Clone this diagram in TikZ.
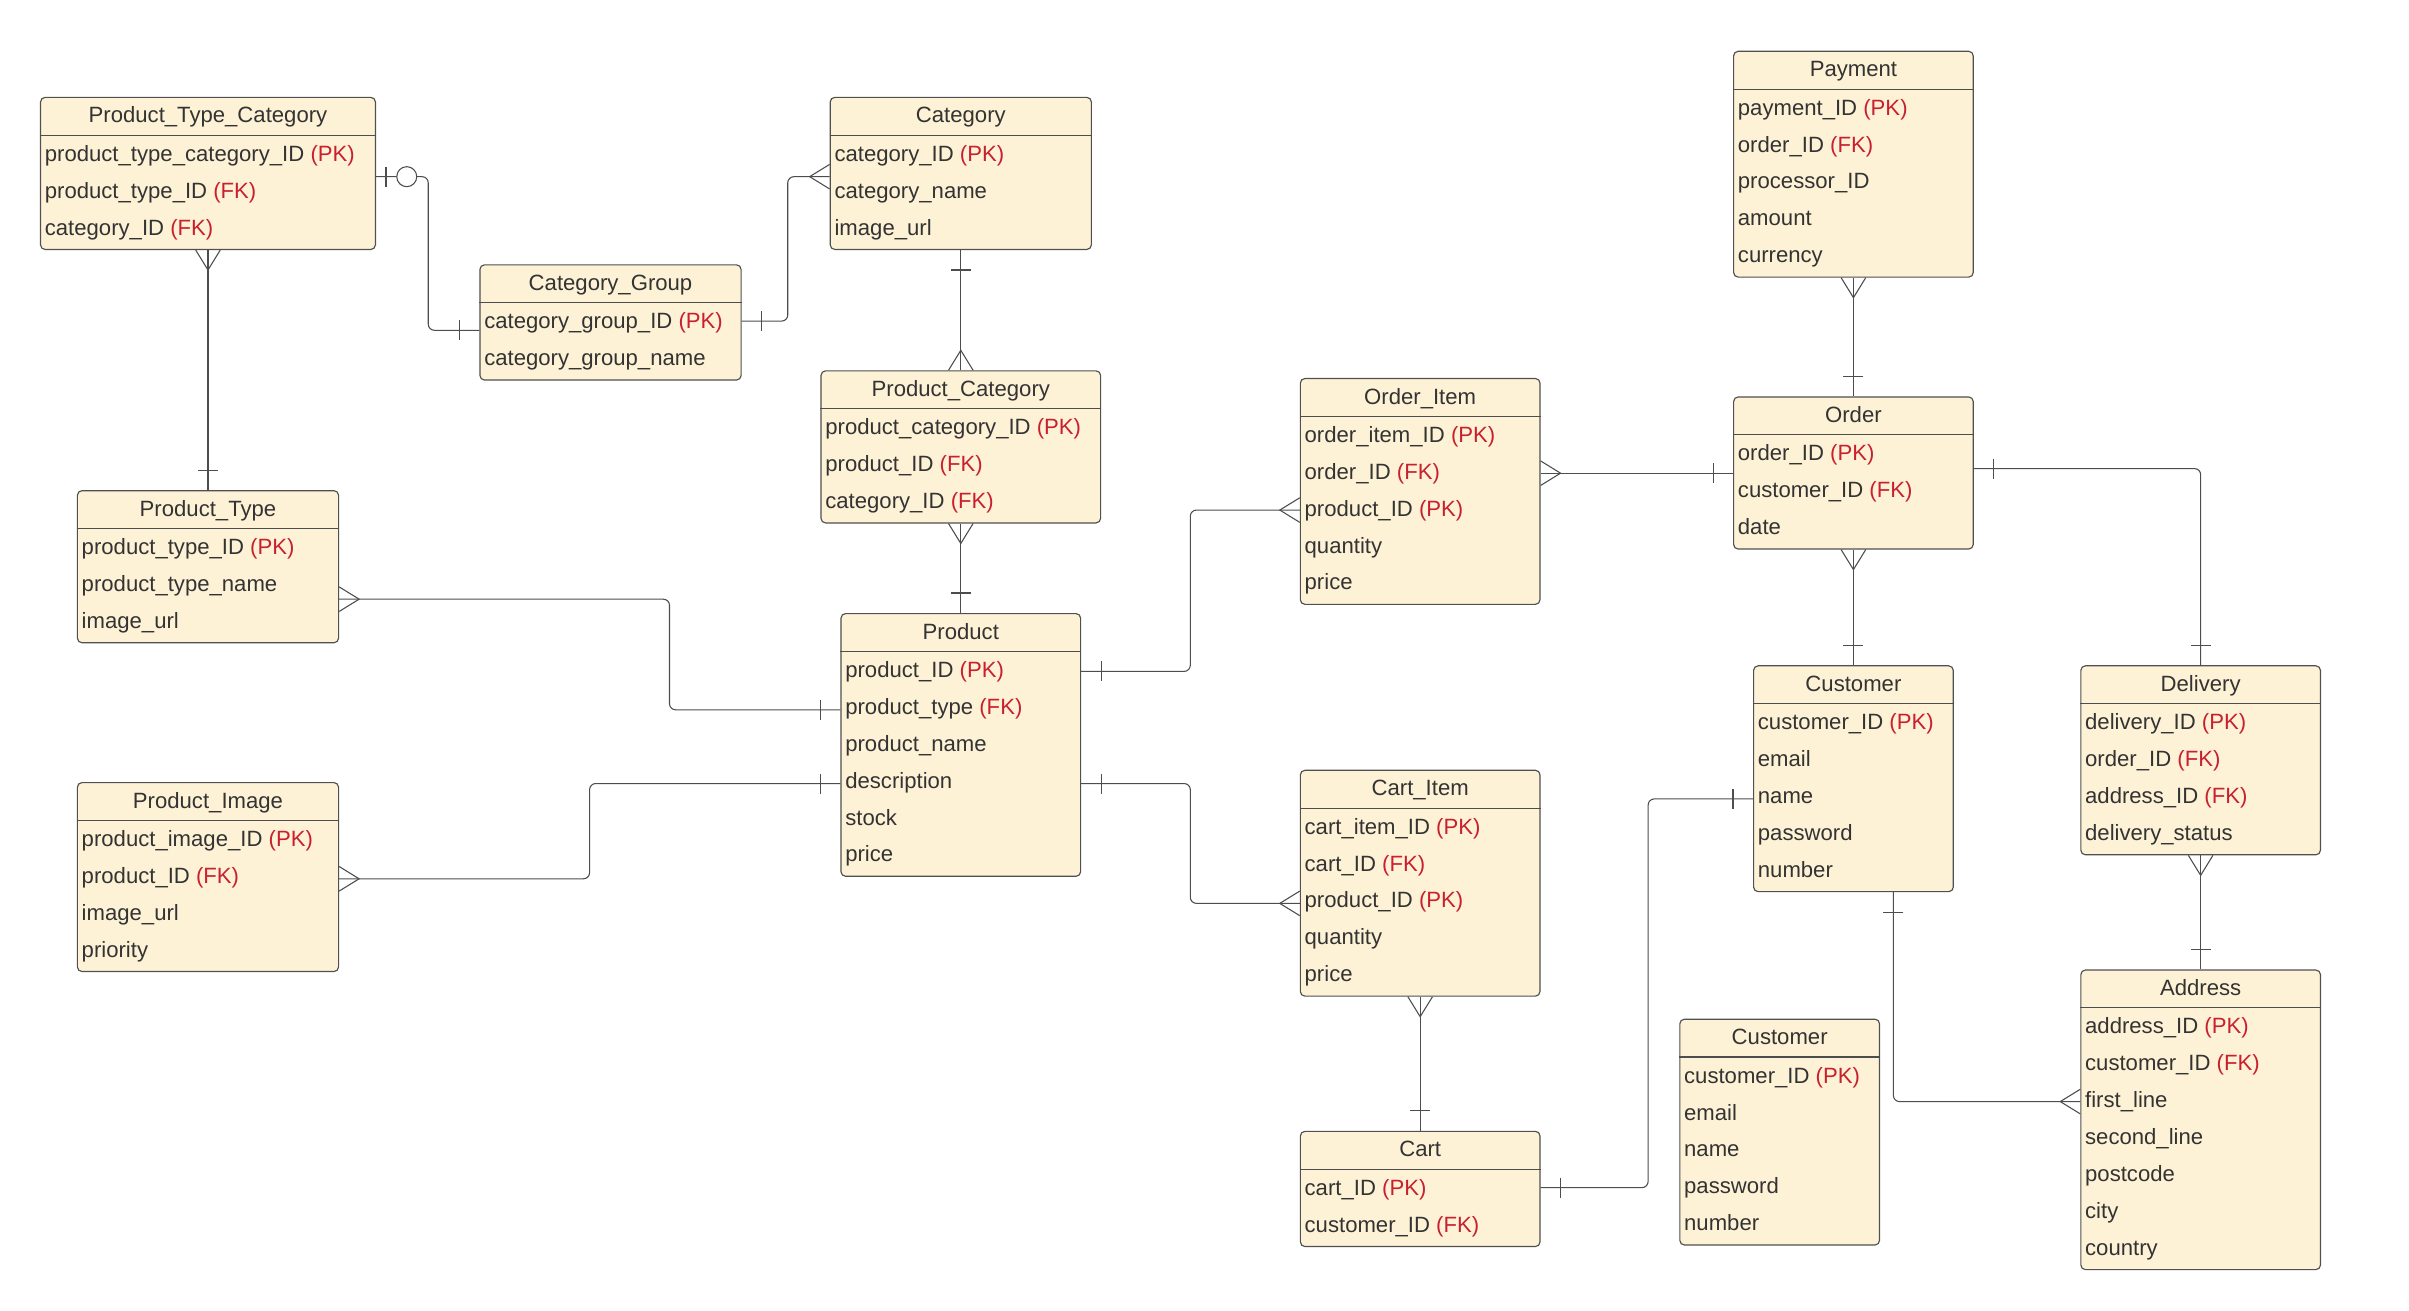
\documentclass[tikz,border=0pt]{standalone}
\usepackage{fontspec}
\setmainfont{Liberation Sans}

\definecolor{boxfill}{HTML}{FEF2D6}
\definecolor{boxdraw}{HTML}{505050}
\definecolor{txt}{HTML}{333333}
\definecolor{keyred}{HTML}{C8202F}
\definecolor{relcol}{HTML}{4D4D4D}

\newcommand{\pk}{\textcolor{keyred}{(PK)}}
\newcommand{\fk}{\textcolor{keyred}{(FK)}}

\tikzset{
  entitybox/.style={draw=boxdraw, fill=boxfill, rounded corners=3pt, line width=0.75pt, inner sep=0pt},
  entitytext/.style={text=txt, font=\fontsize{14.4}{17}\selectfont, inner sep=0pt},
  rel/.style={draw=relcol, line width=0.7pt, rounded corners=4pt},
  relmark/.style={draw=relcol, line width=0.7pt}
}

% entity: name, top-left corner, width, number of rows, title, rows
\newcommand{\entity}[6]{%
  \node[entitybox, anchor=north west, minimum width=#3, minimum height={(27+24*#4)*1pt}] (#1) at #2 {};
  \node[entitytext, anchor=base] (#1-title) at ([yshift=-17]#1.north) {#5};
  \draw[relmark] ([yshift=-25]#1.north west) -- ([yshift=-25]#1.north east);
  \foreach \r [count=\i] in {#6} {
    \node[entitytext, anchor=base west] (#1-\i) at ([xshift=3, yshift={-42-24*(\i-1)}]#1.north west) {\r};
  }
}

% relationship ends: point on the box edge, direction away from the box
\newcommand{\markmany}[2]{%
  \begin{scope}[shift={(#1)}, rotate=#2]
    \draw[relmark] (0,8) -- (13,0) -- (0,-8);
  \end{scope}}
\newcommand{\markone}[2]{%
  \begin{scope}[shift={(#1)}, rotate=#2]
    \draw[relmark] (13,-6.5) -- (13,6.5);
  \end{scope}}
\newcommand{\markzeroone}[2]{%
  \begin{scope}[shift={(#1)}, rotate=#2]
    \draw[relmark] (6.5,-6.5) -- (6.5,6.5);
    \draw[relmark, fill=white] (20,0) circle (6.5);
  \end{scope}}

\begin{document}
\begin{tikzpicture}[x=1pt, y=-1pt]
  \useasboundingbox (0,0) rectangle (1568,853);

  % entities
  \entity{ptc}{(26,63)}{218}{3}{Product\_Type\_Category}{product\_type\_category\_ID \pk, product\_type\_ID \fk, category\_ID \fk}
  \entity{category}{(540,63)}{170}{3}{Category}{category\_ID \pk, category\_name, image\_url}
  \entity{catgroup}{(312,172)}{170}{2}{Category\_Group}{category\_group\_ID \pk, category\_group\_name}
  \entity{prodcat}{(534,241)}{182}{3}{Product\_Category}{product\_category\_ID \pk, product\_ID \fk, category\_ID \fk}
  \entity{prodtype}{(50,319)}{170}{3}{Product\_Type}{product\_type\_ID \pk, product\_type\_name, image\_url}
  \entity{product}{(547,399)}{156}{6}{Product}{product\_ID \pk, product\_type \fk, product\_name, description, stock, price}
  \entity{prodimage}{(50,509)}{170}{4}{Product\_Image}{product\_image\_ID \pk, product\_ID \fk, image\_url, priority}
  \entity{orderitem}{(846,246)}{156}{5}{Order\_Item}{order\_item\_ID \pk, order\_ID \fk, product\_ID \pk, quantity, price}
  \entity{payment}{(1128,33)}{156}{5}{Payment}{payment\_ID \pk, order\_ID \fk, processor\_ID, amount, currency}
  \entity{order}{(1128,258)}{156}{3}{Order}{order\_ID \pk, customer\_ID \fk, date}
  \entity{customer}{(1141,433)}{130}{5}{Customer}{customer\_ID \pk, email, name, password, number}
  \entity{delivery}{(1354,433)}{156}{4}{Delivery}{delivery\_ID \pk, order\_ID \fk, address\_ID \fk, delivery\_status}
  \entity{cartitem}{(846,501)}{156}{5}{Cart\_Item}{cart\_item\_ID \pk, cart\_ID \fk, product\_ID \pk, quantity, price}
  \entity{cart}{(846,736)}{156}{2}{Cart}{cart\_ID \pk, customer\_ID \fk}
  \entity{customertwo}{(1093,663)}{130}{5}{Customer}{customer\_ID \pk, email, name, password, number}
  \entity{address}{(1354,631)}{156}{7}{Address}{address\_ID \pk, customer\_ID \fk, first\_line, second\_line, postcode, city, country}

  % relationships
  \draw[rel] (ptc.south) -- (prodtype.north);
  \draw[rel] ([yshift=-52]ptc.north east) -- ++(34,0) |- ([yshift=-43]catgroup.north west);
  \draw[rel] ([yshift=-37]catgroup.north east) -- ++(30,0) |- ([yshift=-52]category.north west);
  \draw[rel] (category.south) -- (prodcat.north);
  \draw[rel] (prodcat.south) -- (product.north);
  \draw[rel] ([yshift=-71]prodtype.north east) -- ++(215,0) |- ([yshift=-63]product.north west);
  \draw[rel] ([yshift=-63]prodimage.north east) -- ++(163,0) |- ([yshift=-111]product.north west);
  \draw[rel] ([yshift=-38]product.north east) -- ++(71,0) |- ([yshift=-86]orderitem.north west);
  \draw[rel] ([yshift=-111]product.north east) -- ++(71,0) |- ([yshift=-87]cartitem.north west);
  \draw[rel] ([yshift=-62]orderitem.north east) -- ([yshift=-50]order.north west);
  \draw[rel] (payment.south) -- (order.north);
  \draw[rel] (order.south) -- (customer.north);
  \draw[rel] ([yshift=-47]order.north east) -| (delivery.north);
  \draw[rel] (delivery.south) -- (address.north);
  \draw[rel] (cartitem.south) -- (cart.north);
  \draw[rel] ([yshift=-37]cart.north east) -- ++(70,0) |- ([yshift=-87]customer.north west);
  \draw[rel] ([xshift=26]customer.south) |- ([yshift=-86]address.north west);

  % relationship ends
  \markmany{ptc.south}{270} \markone{prodtype.north}{90}
  \markzeroone{[yshift=-52]ptc.north east}{0} \markone{[yshift=-43]catgroup.north west}{180}
  \markone{[yshift=-37]catgroup.north east}{0} \markmany{[yshift=-52]category.north west}{180}
  \markone{category.south}{270} \markmany{prodcat.north}{90}
  \markmany{prodcat.south}{270} \markone{product.north}{90}
  \markmany{[yshift=-71]prodtype.north east}{0} \markone{[yshift=-63]product.north west}{180}
  \markmany{[yshift=-63]prodimage.north east}{0} \markone{[yshift=-111]product.north west}{180}
  \markone{[yshift=-38]product.north east}{0} \markmany{[yshift=-86]orderitem.north west}{180}
  \markone{[yshift=-111]product.north east}{0} \markmany{[yshift=-87]cartitem.north west}{180}
  \markmany{[yshift=-62]orderitem.north east}{0} \markone{[yshift=-50]order.north west}{180}
  \markmany{payment.south}{270} \markone{order.north}{90}
  \markmany{order.south}{270} \markone{customer.north}{90}
  \markone{[yshift=-47]order.north east}{0} \markone{delivery.north}{90}
  \markmany{delivery.south}{270} \markone{address.north}{90}
  \markmany{cartitem.south}{270} \markone{cart.north}{90}
  \markone{[yshift=-37]cart.north east}{0} \markone{[yshift=-87]customer.north west}{180}
  \markone{[xshift=26]customer.south}{270} \markmany{[yshift=-86]address.north west}{180}
\end{tikzpicture}
\end{document}
